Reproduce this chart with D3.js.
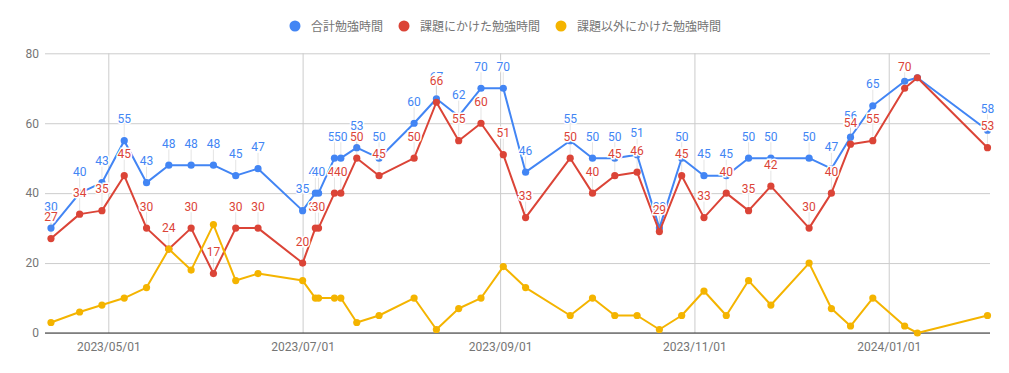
<!DOCTYPE html>
<html>
<head>
<meta charset="utf-8">
<script src="https://cdn.jsdelivr.net/npm/d3@7"></script>
<style>
  body { margin: 0; background: #fff; }
  svg { display: block; }
</style>
</head>
<body>
<div id="chart"></div>
<script>
// Data
const dates = [
  "2023-04-13","2023-04-22","2023-04-29","2023-05-06","2023-05-13","2023-05-20","2023-05-27","2023-06-03","2023-06-10","2023-06-17",
  "2023-07-01","2023-07-05","2023-07-06","2023-07-11","2023-07-13","2023-07-18","2023-07-25","2023-08-05","2023-08-12","2023-08-19","2023-08-26","2023-09-02",
  "2023-09-09","2023-09-23","2023-09-30","2023-10-07","2023-10-14","2023-10-21","2023-10-28","2023-11-04","2023-11-11",
  "2023-11-18","2023-11-25","2023-12-07","2023-12-14","2023-12-20","2023-12-27","2024-01-06","2024-01-10","2024-02-01"
];
const totalHours = [30,40,43,55,43,48,48,48,45,47, 35,40,40,50,50,53,50,60,67,62,70,70, 46,55,50,50,51,30,50,45,45, 50,50,50,47,56,65,72,73,58];
const taskHours  = [27,34,35,45,30,24,30,17,30,30, 20,30,30,40,40,50,45,50,66,55,60,51, 33,50,40,45,46,29,45,33,40, 35,42,30,40,54,55,70,73,53];
const otherHours = [3,6,8,10,13,24,18,31,15,17, 15,10,10,10,10,3,5,10,1,7,10,19, 13,5,10,5,5,1,5,12,5, 15,8,20,7,2,10,2,0,5];
const seriesNames = ["合計勉強時間", "課題にかけた勉強時間", "課題以外にかけた勉強時間"];
const yTicks = [0, 20, 40, 60, 80];

const parseDate = d3.timeParse("%Y-%m-%d");
const colors = ["#4285F4", "#DB4437", "#F4B400"];
const showLabels = [true, true, false];

let width = 1009, height = 373;
let margin = { top: 53.3, bottom: 40, left: 45, right: 19 };

let svg = d3.select("#chart")
    .append("svg")
    .attr("width", width)
    .attr("height", height)
    .style("font-family", "Roboto, Arial, sans-serif");

const series = [totalHours, taskHours, otherHours].map((vals, i) => ({
    name: seriesNames[i],
    color: colors[i],
    labels: showLabels[i],
    values: vals.map((v, j) => ({ date: parseDate(dates[j]), value: v }))
}));

// Scales
let xScale = d3.scaleTime()
    .domain([new Date(2023, 3, 11, 3), new Date(2024, 1, 1, 19)])
    .range([margin.left, width - margin.right]);

let yScale = d3.scaleLinear()
    .domain([0, 80])
    .range([height - margin.bottom, margin.top]);

// Horizontal gridlines + labels
let yAxis = svg.append("g")
    .attr("transform", `translate(${margin.left},0)`)
    .call(d3.axisLeft(yScale).tickValues(yTicks).tickSize(-(width - margin.left - margin.right)).tickPadding(6));
yAxis.select(".domain").remove();
yAxis.selectAll(".tick line").attr("stroke", "#cccccc");
yAxis.selectAll(".tick text")
    .attr("fill", "#757575")
    .style("font-size", "12px")
    .style("font-family", "Roboto, Arial, sans-serif");

// Vertical gridlines + date labels
let xAxis = svg.append("g")
    .attr("transform", `translate(0,${height - margin.bottom})`)
    .call(d3.axisBottom(xScale)
        .ticks(d3.timeMonth.every(2))
        .tickFormat(d3.timeFormat("%Y/%m/%d"))
        .tickSize(-(height - margin.bottom - margin.top))
        .tickPadding(9));
xAxis.select(".domain").remove();
xAxis.selectAll(".tick line").attr("stroke", "#cccccc");
xAxis.selectAll(".tick text")
    .attr("fill", "#757575")
    .style("font-size", "12px")
    .style("font-family", "Roboto, Arial, sans-serif");

// Baseline
svg.append("line")
    .attr("x1", margin.left)
    .attr("x2", width - margin.right)
    .attr("y1", yScale(0))
    .attr("y2", yScale(0))
    .attr("stroke", "#333333")
    .attr("stroke-width", 1);

// Lines and points
const line = d3.line()
    .x(d => xScale(d.date))
    .y(d => yScale(d.value));

series.forEach(s => {
    svg.append("path")
        .datum(s.values)
        .attr("fill", "none")
        .attr("stroke", s.color)
        .attr("stroke-width", 2)
        .attr("stroke-linejoin", "round")
        .attr("d", line);

    svg.append("g")
        .selectAll("circle")
        .data(s.values)
        .enter()
        .append("circle")
        .attr("cx", d => xScale(d.date))
        .attr("cy", d => yScale(d.value))
        .attr("r", 3.6)
        .attr("fill", s.color);
});

// Annotations (stem + value), hidden when they would poke above the plot
series.filter(s => s.labels).forEach(s => {
    const g = svg.append("g");
    const visible = s.values.filter(d => yScale(d.value) - 17.5 - 12 >= margin.top);

    g.selectAll("line")
        .data(visible)
        .enter()
        .append("line")
        .attr("x1", d => xScale(d.date))
        .attr("x2", d => xScale(d.date))
        .attr("y1", d => yScale(d.value) - 4)
        .attr("y2", d => yScale(d.value) - 16)
        .attr("stroke", "#999")
        .attr("stroke-opacity", 0.25);

    g.selectAll("text")
        .data(visible)
        .enter()
        .append("text")
        .attr("x", d => xScale(d.date))
        .attr("y", d => yScale(d.value) - 17.5)
        .attr("text-anchor", "middle")
        .style("font-size", "12px")
        .attr("fill", s.color)
        .attr("stroke", "#fff")
        .attr("stroke-width", 3)
        .attr("paint-order", "stroke")
        .text(d => d.value);
});

// Legend
const legend = svg.append("g").attr("transform", "translate(0,26)");
let cursor = 0;
const items = [];
series.forEach(s => {
    const item = legend.append("g");
    item.append("circle")
        .attr("cx", 6)
        .attr("cy", 0)
        .attr("r", 5.5)
        .attr("fill", s.color);
    const t = item.append("text")
        .attr("x", 22)
        .attr("y", 4.5)
        .style("font-size", "12px")
        .style("font-family", "'Noto Sans CJK JP', sans-serif")
        .attr("fill", "#757575")
        .text(s.name);
    const w = 22 + t.node().getComputedTextLength();
    items.push({ item, x: cursor });
    cursor += w + 15;
});
const totalW = cursor - 15;
const startX = 505 - totalW / 2;
items.forEach(d => d.item.attr("transform", `translate(${startX + d.x},0)`));
</script>
</body>
</html>
